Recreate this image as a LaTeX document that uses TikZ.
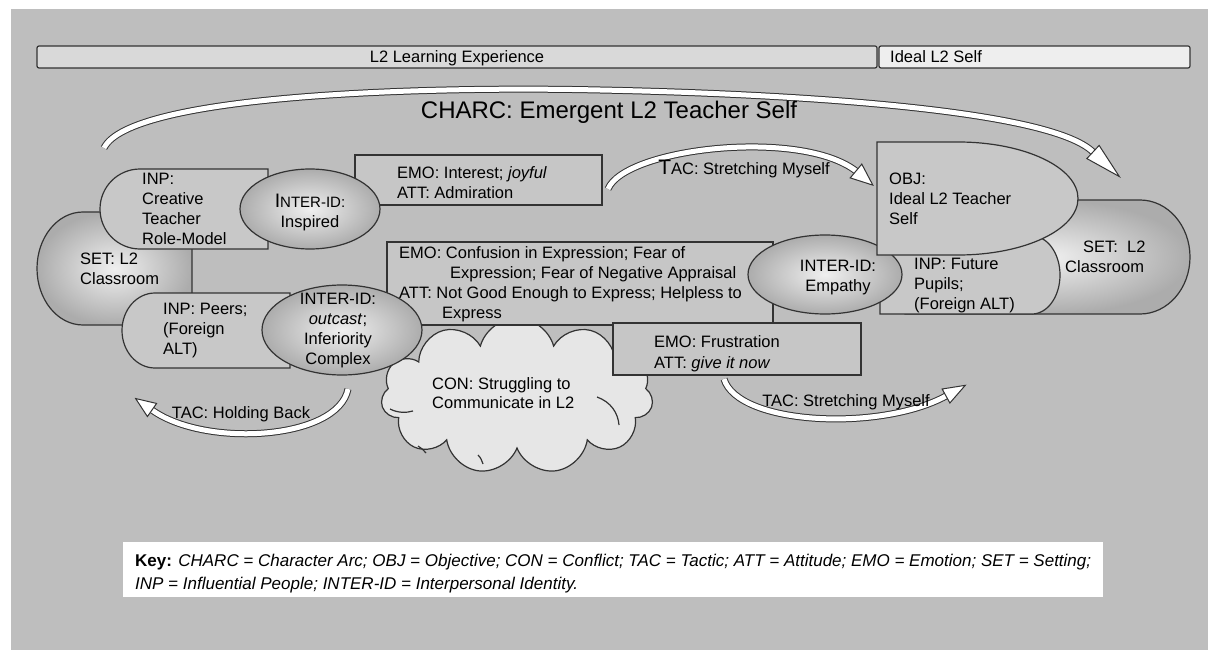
\documentclass[tikz,border=0pt]{standalone}
\usepackage{fontspec}
\setmainfont{Liberation Sans}
\usetikzlibrary{shapes.geometric,shapes.symbols}

\definecolor{bggray}{HTML}{BEBEBE}
\definecolor{barleft}{HTML}{D9D9D9}
\definecolor{barright}{HTML}{EEEEEE}
\definecolor{boxgray}{HTML}{C6C6C6}
\definecolor{shapegray}{HTML}{C8C8C8}
\definecolor{edgegray}{HTML}{333333}
\definecolor{cloudfill}{HTML}{E6E6E6}

\newcommand{\bodyfont}{\fontsize{16.5}{20}\selectfont}

\tikzset{
  pics/headtip/.style args={#1/#2}{code={
    \filldraw[fill=white, draw=edgegray, line width=1pt] (0,-#2) -- (#1,0) -- (0,#2) -- cycle;}},
}

\begin{document}
\begin{tikzpicture}[x=1pt, y=-1pt,
    txt/.style={inner sep=0pt, font=\bodyfont, align=left},
    ctxt/.style={inner sep=0pt, font=\bodyfont, align=center},
    edge/.style={draw=edgegray, line width=1.2pt},
    emobox/.style={edge, fill=boxgray},
    flat/.style={edge, fill=shapegray},
    glow/.style={edge, inner color=gray!12, outer color=gray!65},
    interid/.style={ellipse, glow, inner sep=0pt},
    tacline/.style={draw=edgegray, line width=1pt, double=white, double distance=5pt}]
  \useasboundingbox (0,0) rectangle (1208,650);
  \fill[white] (0,0) rectangle (1208,650);
  \fill[bggray] (11,9) rectangle (1208,650);

  % top bars
  \draw[edge, fill=barleft, rounded corners=2pt] (37,46) rectangle (877,68);
  \draw[edge, fill=barright, rounded corners=2pt] (879,46) rectangle (1190,68);
  \node[txt, anchor=base] (learnbar) at (457,63) {L2 Learning Experience};
  \node[txt, anchor=base west] (idealbar) at (890,63) {Ideal L2 Self};

  % character arc
  \coordinate (charcA) at (104,148);
  \coordinate (charcB) at (1093,152);
  \draw[tacline] (charcA) .. controls (130,95) and (420,86) .. (600,90)
    .. controls (800,94) and (1050,110) .. (charcB);
  \pic[rotate=-43] at (charcB) {headtip=36/9};
  \node[inner sep=0pt, font=\fontsize{24}{28}\selectfont, anchor=base] (charc) at (609,119) {CHARC: Emergent L2 Teacher Self};

  % left setting and people
  \draw[glow] (192,212) -- (83,212) arc[start angle=90, end angle=270, x radius=46pt, y radius=56.5pt] -- (192,325) -- cycle;
  \draw[flat] (268,169) -- (140,169) arc[start angle=90, end angle=270, radius=40pt] -- (268,249) -- cycle;
  \draw[flat] (290,293) -- (155,293) arc[start angle=90, end angle=270, x radius=33pt, y radius=37.5pt] -- (290,368) -- cycle;
  \node[txt, anchor=north west] (setleft) at (80,253) {SET: L2\\Classroom};
  \node[txt, anchor=north west] (inptop) at (142,173) {INP:\\Creative\\Teacher\\Role-Model};
  \node[txt, anchor=north west] (inppeers) at (163,303) {INP: Peers;\\(Foreign\\ALT)};

  % emotion boxes and conflict
  \draw[emobox] (355,155) rectangle (602,205);
  \node[interid, minimum width=140pt, minimum height=80pt] (inspired) at (310,209) {};
  \node[ctxt, anchor=north] (inspiredtxt) at (310,194) {{\fontsize{19.5}{20}\selectfont I}{\fontsize{15}{20}\selectfont NTER-ID:}\\Inspired};
  \node[txt, anchor=north west] (emotop) at (397,166) {EMO: Interest; \textit{joyful}\\ATT: Admiration};

  \node[cloud, cloud puffs=11, cloud ignores aspect, draw=edgegray, line width=1.2pt, fill=cloudfill,
    minimum width=272pt, minimum height=156pt] (con) at (517,396) {};
  \draw[edgegray, line width=1.2pt] (390,409) .. controls (398,413) and (406,413) .. (413,411);
  \draw[edgegray, line width=1.2pt] (597,397) .. controls (611,402) and (618,413) .. (619,425);
  \draw[edgegray, line width=1.2pt] (418,446) .. controls (421,448) and (424,450) .. (426,453);
  \draw[edgegray, line width=1.2pt] (478,455) .. controls (481,458) and (482,461) .. (483,464);
  \node[txt, anchor=north west, font=\fontsize{16.5}{19}\selectfont] (contxt) at (432,377) {CON: Struggling to\\Communicate in L2};

  \draw[emobox] (387,242) rectangle (773,325);
  \node[txt, anchor=north west] (emomid) at (399,246)
    {EMO: Confusion in Expression; Fear of\\\hspace*{51pt}Expression; Fear of Negative Appraisal\\ATT: Not Good Enough to Express; Helpless to\\\hspace*{43pt}Express};
  \node[interid, minimum width=160pt, minimum height=90pt] (outcast) at (342,330) {};
  \node[ctxt, anchor=north] (outcasttxt) at (338,293) {INTER-ID:\\\textit{outcast};\\Inferiority\\Complex};

  \draw[emobox] (613,323) rectangle (861,375);
  \node[txt, anchor=north west, font=\fontsize{16.5}{21}\selectfont] (emofrus) at (654,335) {EMO: Frustration\\ATT: \textit{give it now}};

  % right setting, people and objective
  \draw[glow] (905,200) -- (1140,200) arc[start angle=90, end angle=-90, x radius=50pt, y radius=57pt] -- (905,314) -- cycle;
  \draw[flat] (880,236) -- (1032,236) arc[start angle=90, end angle=-90, x radius=28pt, y radius=39pt] -- (880,314) -- cycle;
  \node[interid, minimum width=154pt, minimum height=79pt] (empathy) at (825,274.5) {};
  \draw[flat] (877,142) -- (958,142) arc[start angle=90, end angle=-90, x radius=120pt, y radius=56.5pt] -- (877,255) -- cycle;
  \node[txt, anchor=north west] (objtxt) at (889,173) {OBJ:\\Ideal L2 Teacher\\Self};
  \node[ctxt, anchor=north] (empathytxt) at (838,260) {INTER-ID:\\Empathy};
  \node[txt, anchor=north west] (inpright) at (914,258) {INP: Future\\Pupils;\\(Foreign ALT)};
  \node[txt, anchor=north west] (setright) at (1065,241) {\hspace*{18pt}SET:\ \ L2\\Classroom};

  % tactics
  \coordinate (tacA) at (608,189);
  \coordinate (tacB) at (856,171);
  \draw[tacline] (tacA) .. controls (625,148) and (800,128) .. (tacB);
  \pic[rotate=-40] at (tacB) {headtip=22/9};
  \node[txt, anchor=base] (tacstretch) at (744,175) {{\fontsize{21}{21}\selectfont T}AC: Stretching Myself};

  \coordinate (holdA) at (348,389);
  \coordinate (holdB) at (152,410);
  \draw[tacline] (holdA) .. controls (338,440) and (205,448) .. (holdB);
  \pic[rotate=145] at (holdB) {headtip=20/8};
  \node[txt, anchor=base] (tachold) at (241,418) {TAC: Holding Back};

  \coordinate (stretchA) at (724,379);
  \coordinate (stretchB) at (946,396);
  \draw[tacline] (stretchA) .. controls (738,425) and (880,432) .. (stretchB);
  \pic[rotate=29] at (stretchB) {headtip=22/8};
  \node[txt, anchor=base] (tacstretchlow) at (846,406) {TAC: Stretching Myself};

  % key
  \fill[white] (123,542) rectangle (1103,597);
  \node[inner sep=0pt, anchor=north west, align=left, font=\fontsize{17}{23}\selectfont] (keytxt) at (135,554)
    {\textbf{Key:} \textit{CHARC = Character Arc; OBJ = Objective; CON = Conflict; TAC = Tactic; ATT = Attitude; EMO = Emotion; SET = Setting;}\\
     \textit{INP = Influential People; INTER-ID = Interpersonal Identity.}};
\end{tikzpicture}
\end{document}
